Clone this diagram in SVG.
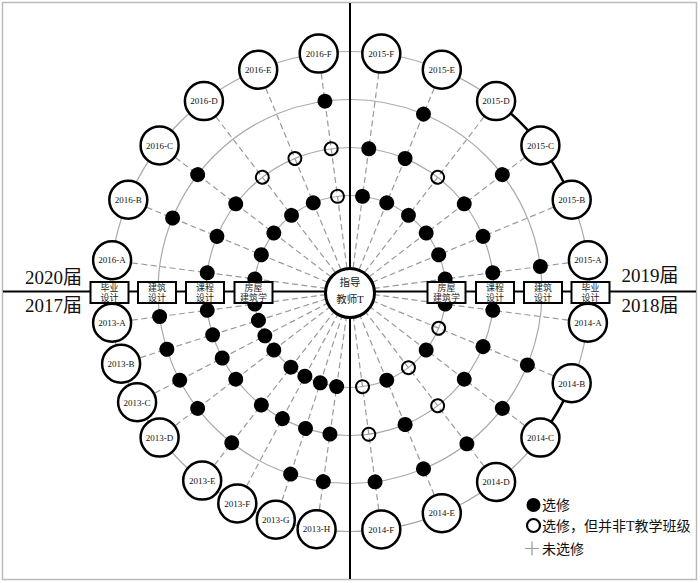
<svg xmlns="http://www.w3.org/2000/svg" width="700" height="583" viewBox="0 0 700 583">
<style>
.ring{fill:none;stroke:#aaa;stroke-width:1.2}
.spoke{stroke:#9a9a9a;stroke-width:1.2;stroke-dasharray:6 3.5}
.axis{stroke:#000;stroke-width:2}
.thick{fill:none;stroke:#000;stroke-width:2.5}
.cls{fill:#fff;stroke:#000;stroke-width:2.5}
.ct{font-family:"Liberation Serif","Noto Sans CJK SC",serif;font-size:9px;text-anchor:middle;fill:#111}
.f{fill:#000}
.o{fill:none;stroke:#000;stroke-width:2}
.box{fill:#fff;stroke:#000;stroke-width:2}
.bt{font-family:"Liberation Serif","Noto Sans CJK SC",serif;font-size:9px;text-anchor:middle;fill:#222}
.big{font-family:"Liberation Serif","Noto Sans CJK SC",serif;font-size:19px;fill:#111}
.lg{font-family:"Liberation Serif","Noto Sans CJK SC",serif;font-size:14px;fill:#111}
.tt{font-family:"Liberation Serif","Noto Sans CJK SC",serif;font-size:10.5px;text-anchor:middle;fill:#222}
</style>
<rect x="2.5" y="2.5" width="694" height="577" fill="#fff" stroke="#bbb" stroke-width="1.5"/>
<g id="rings">
<circle class="ring" cx="350" cy="291.5" r="96"/>
<circle class="ring" cx="350" cy="291.5" r="144"/>
<circle class="ring" cx="350" cy="291.5" r="192"/>
<circle class="ring" cx="350" cy="291.5" r="240"/>
</g>
<g id="connectors">
<line class="spoke" x1="374" y1="291.5" x2="571" y2="291.5" transform="rotate(-97.5 350 291.5)"/>
<line class="spoke" x1="374" y1="291.5" x2="571" y2="291.5" transform="rotate(-112.5 350 291.5)"/>
<line class="spoke" x1="374" y1="291.5" x2="571" y2="291.5" transform="rotate(-127.5 350 291.5)"/>
<line class="spoke" x1="374" y1="291.5" x2="571" y2="291.5" transform="rotate(-142.5 350 291.5)"/>
<line class="spoke" x1="374" y1="291.5" x2="571" y2="291.5" transform="rotate(-157.5 350 291.5)"/>
<line class="spoke" x1="374" y1="291.5" x2="571" y2="291.5" transform="rotate(-172.5 350 291.5)"/>
<line class="spoke" x1="374" y1="291.5" x2="571" y2="291.5" transform="rotate(-82.5 350 291.5)"/>
<line class="spoke" x1="374" y1="291.5" x2="571" y2="291.5" transform="rotate(-67.5 350 291.5)"/>
<line class="spoke" x1="374" y1="291.5" x2="571" y2="291.5" transform="rotate(-52.5 350 291.5)"/>
<line class="spoke" x1="374" y1="291.5" x2="571" y2="291.5" transform="rotate(-37.5 350 291.5)"/>
<line class="spoke" x1="374" y1="291.5" x2="571" y2="291.5" transform="rotate(-22.5 350 291.5)"/>
<line class="spoke" x1="374" y1="291.5" x2="571" y2="291.5" transform="rotate(-7.5 350 291.5)"/>
<line class="spoke" x1="374" y1="291.5" x2="571" y2="291.5" transform="rotate(7.5 350 291.5)"/>
<line class="spoke" x1="374" y1="291.5" x2="571" y2="291.5" transform="rotate(22.5 350 291.5)"/>
<line class="spoke" x1="374" y1="291.5" x2="571" y2="291.5" transform="rotate(37.5 350 291.5)"/>
<line class="spoke" x1="374" y1="291.5" x2="571" y2="291.5" transform="rotate(52.5 350 291.5)"/>
<line class="spoke" x1="374" y1="291.5" x2="571" y2="291.5" transform="rotate(67.5 350 291.5)"/>
<line class="spoke" x1="374" y1="291.5" x2="571" y2="291.5" transform="rotate(82.5 350 291.5)"/>
<line class="spoke" x1="374" y1="291.5" x2="571" y2="291.5" transform="rotate(172.5 350 291.5)"/>
<line class="spoke" x1="374" y1="291.5" x2="571" y2="291.5" transform="rotate(162.5 350 291.5)"/>
<line class="spoke" x1="374" y1="291.5" x2="571" y2="291.5" transform="rotate(152.5 350 291.5)"/>
<line class="spoke" x1="374" y1="291.5" x2="571" y2="291.5" transform="rotate(142.5 350 291.5)"/>
<line class="spoke" x1="374" y1="291.5" x2="571" y2="291.5" transform="rotate(128 350 291.5)"/>
<line class="spoke" x1="374" y1="291.5" x2="571" y2="291.5" transform="rotate(118 350 291.5)"/>
<line class="spoke" x1="374" y1="291.5" x2="571" y2="291.5" transform="rotate(108 350 291.5)"/>
<line class="spoke" x1="374" y1="291.5" x2="571" y2="291.5" transform="rotate(98 350 291.5)"/>
<line class="axis" x1="350" y1="3" x2="350" y2="579"/>
<line class="axis" x1="3" y1="291.5" x2="696" y2="291.5"/>
<path class="thick" d="M496.1,101.1 A240,240 0 0 1 571.7,199.7"/>
<path class="thick" d="M571.7,383.3 A240,240 0 0 1 540.4,437.6"/>
</g>
<g id="marks">
<g id="m2016-F"><circle class="f" cx="542" cy="291.5" r="7.5" transform="rotate(-97.5 350 291.5)"/><circle class="o" cx="494" cy="291.5" r="6.5" transform="rotate(-97.5 350 291.5)"/><circle class="o" cx="446" cy="291.5" r="6.5" transform="rotate(-97.5 350 291.5)"/></g>
<g id="m2016-E"><circle class="o" cx="494" cy="291.5" r="6.5" transform="rotate(-112.5 350 291.5)"/><circle class="f" cx="446" cy="291.5" r="7.5" transform="rotate(-112.5 350 291.5)"/></g>
<g id="m2016-D"><circle class="o" cx="494" cy="291.5" r="6.5" transform="rotate(-127.5 350 291.5)"/><circle class="f" cx="446" cy="291.5" r="7.5" transform="rotate(-127.5 350 291.5)"/></g>
<g id="m2016-C"><circle class="f" cx="542" cy="291.5" r="7.5" transform="rotate(-142.5 350 291.5)"/><circle class="f" cx="494" cy="291.5" r="7.5" transform="rotate(-142.5 350 291.5)"/><circle class="f" cx="446" cy="291.5" r="7.5" transform="rotate(-142.5 350 291.5)"/></g>
<g id="m2016-B"><circle class="f" cx="542" cy="291.5" r="7.5" transform="rotate(-157.5 350 291.5)"/><circle class="f" cx="494" cy="291.5" r="7.5" transform="rotate(-157.5 350 291.5)"/><circle class="f" cx="446" cy="291.5" r="7.5" transform="rotate(-157.5 350 291.5)"/></g>
<g id="m2016-A"><circle class="f" cx="494" cy="291.5" r="7.5" transform="rotate(-172.5 350 291.5)"/><circle class="f" cx="446" cy="291.5" r="7.5" transform="rotate(-172.5 350 291.5)"/></g>
<g id="m2015-F"><circle class="f" cx="494" cy="291.5" r="7.5" transform="rotate(-82.5 350 291.5)"/><circle class="f" cx="446" cy="291.5" r="7.5" transform="rotate(-82.5 350 291.5)"/></g>
<g id="m2015-E"><circle class="f" cx="542" cy="291.5" r="7.5" transform="rotate(-67.5 350 291.5)"/><circle class="f" cx="494" cy="291.5" r="7.5" transform="rotate(-67.5 350 291.5)"/><circle class="f" cx="446" cy="291.5" r="7.5" transform="rotate(-67.5 350 291.5)"/></g>
<g id="m2015-D"><circle class="o" cx="494" cy="291.5" r="6.5" transform="rotate(-52.5 350 291.5)"/><circle class="f" cx="446" cy="291.5" r="7.5" transform="rotate(-52.5 350 291.5)"/></g>
<g id="m2015-C"><circle class="f" cx="542" cy="291.5" r="7.5" transform="rotate(-37.5 350 291.5)"/><circle class="f" cx="494" cy="291.5" r="7.5" transform="rotate(-37.5 350 291.5)"/><circle class="f" cx="446" cy="291.5" r="7.5" transform="rotate(-37.5 350 291.5)"/></g>
<g id="m2015-B"><circle class="f" cx="494" cy="291.5" r="7.5" transform="rotate(-22.5 350 291.5)"/><circle class="f" cx="446" cy="291.5" r="7.5" transform="rotate(-22.5 350 291.5)"/></g>
<g id="m2015-A"><circle class="f" cx="542" cy="291.5" r="7.5" transform="rotate(-7.5 350 291.5)"/><circle class="f" cx="494" cy="291.5" r="7.5" transform="rotate(-7.5 350 291.5)"/><circle class="f" cx="446" cy="291.5" r="7.5" transform="rotate(-7.5 350 291.5)"/></g>
<g id="m2014-A"><circle class="f" cx="494" cy="291.5" r="7.5" transform="rotate(7.5 350 291.5)"/><circle class="f" cx="446" cy="291.5" r="7.5" transform="rotate(7.5 350 291.5)"/></g>
<g id="m2014-B"><circle class="f" cx="542" cy="291.5" r="7.5" transform="rotate(22.5 350 291.5)"/><circle class="f" cx="494" cy="291.5" r="7.5" transform="rotate(22.5 350 291.5)"/><circle class="o" cx="446" cy="291.5" r="6.5" transform="rotate(22.5 350 291.5)"/></g>
<g id="m2014-C"><circle class="f" cx="542" cy="291.5" r="7.5" transform="rotate(37.5 350 291.5)"/><circle class="f" cx="494" cy="291.5" r="7.5" transform="rotate(37.5 350 291.5)"/><circle class="f" cx="446" cy="291.5" r="7.5" transform="rotate(37.5 350 291.5)"/></g>
<g id="m2014-D"><circle class="f" cx="542" cy="291.5" r="7.5" transform="rotate(52.5 350 291.5)"/><circle class="o" cx="494" cy="291.5" r="6.5" transform="rotate(52.5 350 291.5)"/><circle class="o" cx="446" cy="291.5" r="6.5" transform="rotate(52.5 350 291.5)"/></g>
<g id="m2014-E"><circle class="f" cx="542" cy="291.5" r="7.5" transform="rotate(67.5 350 291.5)"/><circle class="f" cx="494" cy="291.5" r="7.5" transform="rotate(67.5 350 291.5)"/><circle class="f" cx="446" cy="291.5" r="7.5" transform="rotate(67.5 350 291.5)"/></g>
<g id="m2014-F"><circle class="f" cx="542" cy="291.5" r="7.5" transform="rotate(82.5 350 291.5)"/><circle class="o" cx="494" cy="291.5" r="6.5" transform="rotate(82.5 350 291.5)"/><circle class="o" cx="446" cy="291.5" r="6.5" transform="rotate(82.5 350 291.5)"/></g>
<g id="m2013-A"><circle class="f" cx="542" cy="291.5" r="7.5" transform="rotate(172.5 350 291.5)"/><circle class="f" cx="494" cy="291.5" r="7.5" transform="rotate(172.5 350 291.5)"/><circle class="f" cx="446" cy="291.5" r="7.5" transform="rotate(172.5 350 291.5)"/></g>
<g id="m2013-B"><circle class="f" cx="542" cy="291.5" r="7.5" transform="rotate(162.5 350 291.5)"/><circle class="f" cx="494" cy="291.5" r="7.5" transform="rotate(162.5 350 291.5)"/><circle class="f" cx="446" cy="291.5" r="7.5" transform="rotate(162.5 350 291.5)"/></g>
<g id="m2013-C"><circle class="f" cx="542" cy="291.5" r="7.5" transform="rotate(152.5 350 291.5)"/><circle class="f" cx="494" cy="291.5" r="7.5" transform="rotate(152.5 350 291.5)"/><circle class="f" cx="446" cy="291.5" r="7.5" transform="rotate(152.5 350 291.5)"/></g>
<g id="m2013-D"><circle class="f" cx="542" cy="291.5" r="7.5" transform="rotate(142.5 350 291.5)"/><circle class="f" cx="494" cy="291.5" r="7.5" transform="rotate(142.5 350 291.5)"/><circle class="f" cx="446" cy="291.5" r="7.5" transform="rotate(142.5 350 291.5)"/></g>
<g id="m2013-E"><circle class="f" cx="542" cy="291.5" r="7.5" transform="rotate(128 350 291.5)"/><circle class="f" cx="494" cy="291.5" r="7.5" transform="rotate(128 350 291.5)"/><circle class="f" cx="446" cy="291.5" r="7.5" transform="rotate(128 350 291.5)"/></g>
<g id="m2013-F"><circle class="f" cx="494" cy="291.5" r="7.5" transform="rotate(118 350 291.5)"/><circle class="f" cx="446" cy="291.5" r="7.5" transform="rotate(118 350 291.5)"/></g>
<g id="m2013-G"><circle class="f" cx="542" cy="291.5" r="7.5" transform="rotate(108 350 291.5)"/><circle class="f" cx="494" cy="291.5" r="7.5" transform="rotate(108 350 291.5)"/><circle class="f" cx="446" cy="291.5" r="7.5" transform="rotate(108 350 291.5)"/></g>
<g id="m2013-H"><circle class="f" cx="542" cy="291.5" r="7.5" transform="rotate(98 350 291.5)"/><circle class="f" cx="494" cy="291.5" r="7.5" transform="rotate(98 350 291.5)"/><circle class="f" cx="446" cy="291.5" r="7.5" transform="rotate(98 350 291.5)"/></g>
</g>
<g id="courses">
<g id="c-left">
<rect class="box" x="90.5" y="282" width="38" height="21"/><text class="bt" x="109.5" y="290.5">毕业</text><text class="bt" x="109.5" y="300.8">设计</text>
<rect class="box" x="138" y="282" width="38" height="21"/><text class="bt" x="157" y="290.5">建筑</text><text class="bt" x="157" y="300.8">设计</text>
<rect class="box" x="186" y="282" width="38" height="21"/><text class="bt" x="205" y="290.5">课程</text><text class="bt" x="205" y="300.8">设计</text>
<rect class="box" x="234.5" y="282" width="38" height="21"/><text class="bt" x="253.5" y="290.5">房屋</text><text class="bt" x="253.5" y="300.8">建筑学</text>
</g>
<g id="c-right">
<rect class="box" x="427.5" y="282" width="38" height="21"/><text class="bt" x="446.5" y="290.5">房屋</text><text class="bt" x="446.5" y="300.8">建筑学</text>
<rect class="box" x="476" y="282" width="38" height="21"/><text class="bt" x="495" y="290.5">课程</text><text class="bt" x="495" y="300.8">设计</text>
<rect class="box" x="524" y="282" width="38" height="21"/><text class="bt" x="543" y="290.5">建筑</text><text class="bt" x="543" y="300.8">设计</text>
<rect class="box" x="571.5" y="282" width="38" height="21"/><text class="bt" x="590.5" y="290.5">毕业</text><text class="bt" x="590.5" y="300.8">设计</text>
</g>
</g>
<g id="n2016-F"><circle class="cls" cx="318.7" cy="53.6" r="19"/><text class="ct" x="318.7" y="56.8">2016-F</text></g>
<g id="n2016-E"><circle class="cls" cx="258.2" cy="69.8" r="19"/><text class="ct" x="258.2" y="73">2016-E</text></g>
<g id="n2016-D"><circle class="cls" cx="203.9" cy="101.1" r="19"/><text class="ct" x="203.9" y="104.3">2016-D</text></g>
<g id="n2016-C"><circle class="cls" cx="159.6" cy="145.4" r="19"/><text class="ct" x="159.6" y="148.6">2016-C</text></g>
<g id="n2016-B"><circle class="cls" cx="128.3" cy="199.7" r="19"/><text class="ct" x="128.3" y="202.9">2016-B</text></g>
<g id="n2016-A"><circle class="cls" cx="112.1" cy="260.2" r="19"/><text class="ct" x="112.1" y="263.4">2016-A</text></g>
<g id="n2015-F"><circle class="cls" cx="381.3" cy="53.6" r="19"/><text class="ct" x="381.3" y="56.8">2015-F</text></g>
<g id="n2015-E"><circle class="cls" cx="441.8" cy="69.8" r="19"/><text class="ct" x="441.8" y="73">2015-E</text></g>
<g id="n2015-D"><circle class="cls" cx="496.1" cy="101.1" r="19"/><text class="ct" x="496.1" y="104.3">2015-D</text></g>
<g id="n2015-C"><circle class="cls" cx="540.4" cy="145.4" r="19"/><text class="ct" x="540.4" y="148.6">2015-C</text></g>
<g id="n2015-B"><circle class="cls" cx="571.7" cy="199.7" r="19"/><text class="ct" x="571.7" y="202.9">2015-B</text></g>
<g id="n2015-A"><circle class="cls" cx="587.9" cy="260.2" r="19"/><text class="ct" x="587.9" y="263.4">2015-A</text></g>
<g id="n2014-A"><circle class="cls" cx="587.9" cy="322.8" r="19"/><text class="ct" x="587.9" y="326">2014-A</text></g>
<g id="n2014-B"><circle class="cls" cx="571.7" cy="383.3" r="19"/><text class="ct" x="571.7" y="386.5">2014-B</text></g>
<g id="n2014-C"><circle class="cls" cx="540.4" cy="437.6" r="19"/><text class="ct" x="540.4" y="440.8">2014-C</text></g>
<g id="n2014-D"><circle class="cls" cx="496.1" cy="481.9" r="19"/><text class="ct" x="496.1" y="485.1">2014-D</text></g>
<g id="n2014-E"><circle class="cls" cx="441.8" cy="513.2" r="19"/><text class="ct" x="441.8" y="516.4">2014-E</text></g>
<g id="n2014-F"><circle class="cls" cx="381.3" cy="529.4" r="19"/><text class="ct" x="381.3" y="532.6">2014-F</text></g>
<g id="n2013-A"><circle class="cls" cx="112.1" cy="322.8" r="19"/><text class="ct" x="112.1" y="326">2013-A</text></g>
<g id="n2013-B"><circle class="cls" cx="121.1" cy="363.7" r="19"/><text class="ct" x="121.1" y="366.9">2013-B</text></g>
<g id="n2013-C"><circle class="cls" cx="137.1" cy="402.3" r="19"/><text class="ct" x="137.1" y="405.5">2013-C</text></g>
<g id="n2013-D"><circle class="cls" cx="159.6" cy="437.6" r="19"/><text class="ct" x="159.6" y="440.8">2013-D</text></g>
<g id="n2013-E"><circle class="cls" cx="202.2" cy="480.6" r="19"/><text class="ct" x="202.2" y="483.8">2013-E</text></g>
<g id="n2013-F"><circle class="cls" cx="237.3" cy="503.4" r="19"/><text class="ct" x="237.3" y="506.6">2013-F</text></g>
<g id="n2013-G"><circle class="cls" cx="275.8" cy="519.8" r="19"/><text class="ct" x="275.8" y="523">2013-G</text></g>
<g id="n2013-H"><circle class="cls" cx="316.6" cy="529.2" r="19"/><text class="ct" x="316.6" y="532.4">2013-H</text></g>
<g id="teacher"><circle cx="350" cy="293" r="24.5" fill="#fff" stroke="#000" stroke-width="3"/><text class="tt" x="350" y="285.5">指导</text><text class="tt" x="350" y="303">教师T</text></g>
<g id="labels">
<text class="big" x="25" y="284">2020届</text>
<text class="big" x="25" y="312">2017届</text>
<text class="big" x="621.5" y="282">2019届</text>
<text class="big" x="621.5" y="312">2018届</text>
</g>
<g id="legend">
<circle cx="533.5" cy="505" r="7" fill="#000"/>
<text class="lg" x="542" y="510">选修</text>
<circle cx="533.5" cy="525.5" r="6.5" fill="none" stroke="#000" stroke-width="2.2"/>
<text class="lg" x="542" y="530.5">选修，但并非T教学班级</text>
<path d="M525,548.5 H539 M532,541.5 V555.5" stroke="#999" stroke-width="1.2"/>
<text class="lg" x="542" y="553.5">未选修</text>
</g>
</svg>
